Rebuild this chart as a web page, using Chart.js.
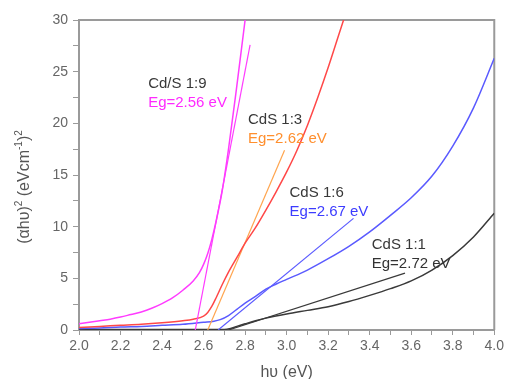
<!DOCTYPE html>
<html>
<head>
<meta charset="utf-8">
<script src="https://cdn.jsdelivr.net/npm/chart.js@4.4.0/dist/chart.umd.min.js"></script>
<style>
  body { margin: 0; background: #fff; }
  #wrap { width: 507px; height: 379px; }
</style>
</head>
<body>
<div id="wrap"><canvas id="tauc"></canvas></div>
<script>
// Tauc plots, (αhυ)² vs hυ, for the four Cd:S ratios
const samples = ["Cd/S 1:9", "CdS 1:3", "CdS 1:6", "CdS 1:1"];
const bandGaps = [2.56, 2.62, 2.67, 2.72];

// upper end of each linear fit (x, y); the fit starts at (Eg, 0)
const fitTopX = [2.824, 2.99, 3.322, 3.57];
const fitTopY = [27.6, 17.4, 10.8, 5.5];

const hv19 = [2.00, 2.05, 2.10, 2.15, 2.20, 2.25, 2.30, 2.35, 2.40, 2.45, 2.50, 2.55, 2.58, 2.60, 2.62, 2.64, 2.66, 2.69, 2.72, 2.76, 2.80, 2.82];
const tauc19 = [0.6, 0.75, 0.9, 1.05, 1.25, 1.5, 1.75, 2.1, 2.55, 3.1, 3.85, 4.75, 5.55, 6.35, 7.4, 8.8, 10.5, 13.5, 17.5, 23.6, 30, 33];

const hv13 = [2.00, 2.10, 2.20, 2.30, 2.40, 2.50, 2.55, 2.60, 2.62, 2.64, 2.66, 2.69, 2.72, 2.76, 2.80, 2.85, 2.90, 2.95, 3.00, 3.05, 3.10, 3.15, 3.20, 3.25, 3.30];
const tauc13 = [0.25, 0.35, 0.45, 0.55, 0.7, 0.9, 1.05, 1.35, 1.7, 2.3, 3.1, 4.4, 5.6, 7.0, 8.4, 9.9, 11.6, 13.4, 15.3, 17.4, 19.8, 22.5, 25.4, 28.5, 31.6];

const hv16 = [2.00, 2.10, 2.20, 2.30, 2.40, 2.50, 2.60, 2.65, 2.68, 2.72, 2.76, 2.80, 2.85, 2.90, 2.95, 3.00, 3.10, 3.20, 3.30, 3.40, 3.50, 3.60, 3.70, 3.80, 3.90, 4.00];
const tauc16 = [0.15, 0.2, 0.3, 0.35, 0.45, 0.55, 0.75, 0.85, 1.0, 1.4, 2.0, 2.6, 3.25, 3.95, 4.45, 4.9, 5.8, 6.9, 8.1, 9.5, 11.1, 12.8, 14.9, 17.8, 21.5, 26.3];

const hv11 = [2.00, 2.30, 2.60, 2.70, 2.73, 2.76, 2.80, 2.85, 2.90, 3.00, 3.10, 3.20, 3.30, 3.40, 3.50, 3.60, 3.70, 3.80, 3.90, 4.00];
const tauc11 = [0.05, 0.05, 0.05, 0.05, 0.15, 0.35, 0.6, 0.9, 1.15, 1.55, 1.9, 2.25, 2.75, 3.35, 4.0, 4.75, 5.8, 7.2, 9.0, 11.3];

const curveColors = ["#ff3cff", "#ff4848", "#5a5aff", "#3a3a3a"];
const fitColors = ["#ff3cff", "#ffa54f", "#5a5aff", "#3a3a3a"];
const gapColors = ["#ff2aff", "#ff8f2e", "#3c3cff", "#333333"];
// where each sample caption sits, in data units (left edge, first baseline)
const captionAt = [[2.333, 23.4], [2.814, 19.9], [3.014, 12.9], [3.41, 7.85]];

const hvSets = [hv19, hv13, hv16, hv11];
const taucSets = [tauc19, tauc13, tauc16, tauc11];
const pairs = (xs, ys) => xs.map((x, i) => ({ x: x, y: ys[i] }));

const datasets = [];
samples.forEach((name, i) => {
  datasets.push({
    label: name,
    data: pairs(hvSets[i], taucSets[i]),
    borderColor: curveColors[i],
    borderWidth: 1.5,
    pointRadius: 0,
    cubicInterpolationMode: "monotone",
  });
  datasets.push({
    label: name + " fit",
    data: [{ x: bandGaps[i], y: 0 }, { x: fitTopX[i], y: fitTopY[i] }],
    borderColor: fitColors[i],
    borderWidth: 1.2,
    pointRadius: 0,
  });
});

const FONT = "'Liberation Sans', Arial, sans-serif";
const axisGrey = "#9a9a9a";

const captions = {
  id: "captions",
  afterDatasetsDraw(chart) {
    const { ctx, scales } = chart;
    ctx.save();
    ctx.font = "15px " + FONT;
    ctx.textAlign = "left";
    ctx.textBaseline = "alphabetic";
    samples.forEach((name, i) => {
      const px = scales.x.getPixelForValue(captionAt[i][0]);
      const py = scales.y.getPixelForValue(captionAt[i][1]);
      ctx.fillStyle = "#383838";
      ctx.fillText(name, px, py);
      ctx.fillStyle = gapColors[i];
      ctx.fillText("Eg=" + bandGaps[i].toFixed(2) + " eV", px, py + 19);
    });
    ctx.restore();
  },
};

// top and right edges of the plot box
const frame = {
  id: "frame",
  beforeDatasetsDraw(chart) {
    const { ctx, chartArea: a } = chart;
    ctx.save();
    ctx.strokeStyle = axisGrey;
    ctx.lineWidth = 2;
    ctx.beginPath();
    ctx.moveTo(a.left, a.top);
    ctx.lineTo(a.right, a.top);
    ctx.lineTo(a.right, a.bottom);
    ctx.stroke();
    ctx.restore();
  },
};

// y title with real superscripts, drawn rotated
const yTitle = {
  id: "yTitle",
  afterDraw(chart) {
    const { ctx } = chart;
    const parts = [
      ["(αhυ)", false], ["2", true], [" (eVcm", false], ["-1", true], [")", false], ["2", true],
    ];
    ctx.save();
    ctx.translate(25, 187);
    ctx.rotate(-Math.PI / 2);
    ctx.fillStyle = "#555";
    ctx.textBaseline = "middle";
    ctx.textAlign = "left";
    let total = 0;
    parts.forEach(([t, sup]) => {
      ctx.font = (sup ? "10px " : "16px ") + FONT;
      total += ctx.measureText(t).width;
    });
    let x = -total / 2;
    parts.forEach(([t, sup]) => {
      ctx.font = (sup ? "10px " : "16px ") + FONT;
      ctx.fillText(t, x, sup ? -6 : 0);
      x += ctx.measureText(t).width;
    });
    ctx.restore();
  },
};

new Chart(document.getElementById("tauc"), {
  type: "line",
  data: { datasets: datasets },
  plugins: [frame, captions, yTitle],
  options: {
    responsive: true,
    maintainAspectRatio: false,
    animation: false,
    layout: { padding: { top: 20, right: 9, left: 0, bottom: 0 } },
    plugins: { legend: { display: false }, tooltip: { enabled: false } },
    scales: {
      x: {
        type: "linear",
        min: 2,
        max: 4,
        afterFit: (s) => { s.height = 49; },
        grid: { drawOnChartArea: false, drawTicks: true, tickLength: 5, color: axisGrey },
        border: { color: axisGrey, width: 2 },
        ticks: {
          stepSize: 0.1,
          maxTicksLimit: 100,
          autoSkip: false,
          maxRotation: 0,
          padding: 3,
          color: "#666",
          font: { family: FONT, size: 14 },
          callback: (v) => (Math.round(v * 10) % 2 === 0 ? v.toFixed(1) : ""),
        },
        title: {
          display: true,
          text: "hυ (eV)",
          color: "#555",
          font: { family: FONT, size: 16, lineHeight: 0.8 },
          padding: 0,
        },
      },
      y: {
        min: 0,
        max: 30,
        afterFit: (s) => { s.width = 79; },
        grid: { drawOnChartArea: false, drawTicks: true, tickLength: 6, color: axisGrey },
        border: { color: axisGrey, width: 2 },
        ticks: {
          stepSize: 2.5,
          maxTicksLimit: 100,
          autoSkip: false,
          padding: 5,
          color: "#666",
          font: { family: FONT, size: 14 },
          callback: (v) => (v % 5 === 0 ? String(v) : ""),
        },
      },
    },
  },
});
</script>
</body>
</html>
